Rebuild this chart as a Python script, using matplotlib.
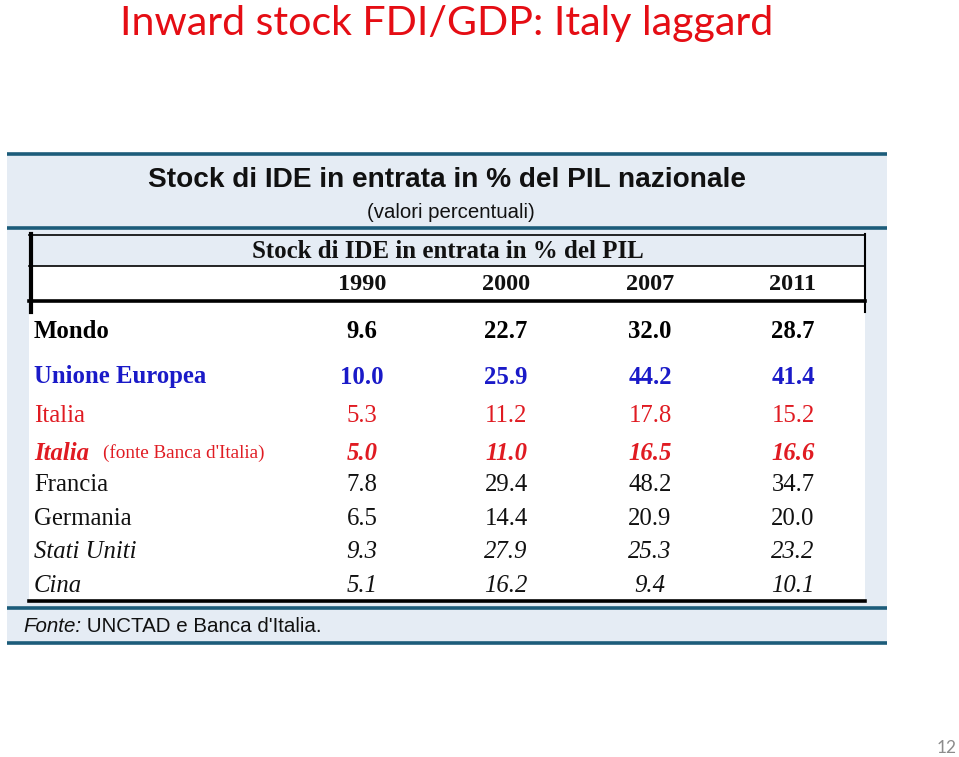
import matplotlib
matplotlib.use('Agg')
import matplotlib.pyplot as plt
from matplotlib.patches import Rectangle

# Table data
title = 'Inward stock FDI/GDP: Italy laggard'
table_title = 'Stock di IDE in entrata in % del PIL nazionale'
table_subtitle = '(valori percentuali)'
header = 'Stock di IDE in entrata in % del PIL'
years = ['1990', '2000', '2007', '2011']
countries = ['Mondo', 'Unione Europea', 'Italia', 'Italia', 'Francia', 'Germania', 'Stati Uniti', 'Cina']
mondo = [9.6, 22.7, 32.0, 28.7]
unione_europea = [10.0, 25.9, 44.2, 41.4]
italia = [5.3, 11.2, 17.8, 15.2]
italia_bdi = [5.0, 11.0, 16.5, 16.6]
francia = [7.8, 29.4, 48.2, 34.7]
germania = [6.5, 14.4, 20.9, 20.0]
stati_uniti = [9.3, 27.9, 25.3, 23.2]
cina = [5.1, 16.2, 9.4, 10.1]
source = "UNCTAD e Banca d'Italia."
page = '12'

values = [mondo, unione_europea, italia, italia_bdi, francia, germania, stati_uniti, cina]

# Layout (pixel coordinates, y downwards)
W, H = 959, 757
col_x = [362, 506, 650, 793]
row_y = [331, 377, 416, 453, 485, 519, 552, 586]
label_x = 34

# Styles per row: (colour, weight, style)
RED = '#e01b22'
BLUE = '#1a1ac8'
row_style = [
    ('black', 'bold', 'normal'),
    (BLUE, 'bold', 'normal'),
    (RED, 'normal', 'normal'),
    (RED, 'bold', 'italic'),
    ('#111111', 'normal', 'normal'),
    ('#111111', 'normal', 'normal'),
    ('#111111', 'normal', 'italic'),
    ('#111111', 'normal', 'italic'),
]

PANEL = '#e5ecf4'
TEAL = '#1c5c7a'
SERIF = 'Liberation Serif'
SANS = 'Liberation Sans'
FS = 17.8

fig = plt.figure(figsize=(W / 100, H / 100), dpi=100)
ax = fig.add_axes([0, 0, 1, 1])
ax.set_xlim(0, W)
ax.set_ylim(H, 0)
ax.axis('off')

# Slide title
ax.text(120, 24, title, color='#e50d14', fontsize=29.6, family='Lato', va='center', ha='left')

# Light blue panel with teal rules
ax.add_patch(Rectangle((7, 154), 880, 490, facecolor=PANEL, edgecolor='none'))
for y in [154, 228, 608, 643]:
    ax.plot([7, 887], [y, y], color=TEAL, lw=2.6, solid_capstyle='butt')

ax.text(447, 180, table_title, family=SANS, weight='bold', fontsize=20.2, ha='center', va='center', color='#111111')
ax.text(451, 212, table_subtitle, family=SANS, fontsize=14.7, ha='center', va='center', color='#111111')

# White table body
ax.add_patch(Rectangle((29, 266), 836, 335, facecolor='white', edgecolor='none'))

# Header box lines
ax.plot([29, 865], [234.5, 234.5], color='black', lw=1.2)
ax.plot([29, 865], [266, 266], color='black', lw=1.2)
ax.plot([29, 865], [300.5, 300.5], color='black', lw=2.6)
ax.plot([30.5, 30.5], [234, 312], color='black', lw=3)
ax.plot([864.5, 864.5], [234, 312], color='black', lw=1.5)
ax.plot([29, 865], [600.5, 600.5], color='black', lw=2.6)

ax.text(448, 251, header, family=SERIF, weight='bold', fontsize=17.9, ha='center', va='center', color='#111111')
for x, yr in zip(col_x, years):
    ax.text(x, 284, yr, family=SERIF, weight='bold', fontsize=17.5, ha='center', va='center', color='#111111')

# Rows
for i, (name, vals) in enumerate(zip(countries, values)):
    color, weight, style = row_style[i]
    y = row_y[i]
    t = ax.text(label_x, y, name, family=SERIF, weight=weight, style=style, fontsize=FS,
                color=color, ha='left', va='center')
    if i == 3:
        ax.annotate("(fonte Banca d'Italia)", xy=(1, 0.5), xycoords=t, xytext=(10, 0),
                    textcoords='offset points', va='center', ha='left',
                    family=SERIF, fontsize=13.8, color=color)
    for x, v in zip(col_x, vals):
        ax.text(x, y, f'{v:.1f}', family=SERIF, weight=weight, style=style, fontsize=FS,
                color=color, ha='center', va='center')

# Source note
f = ax.text(23, 627, 'Fonte:', family=SANS, style='italic', fontsize=14.8, ha='left', va='center', color='#111111')
ax.annotate(' ' + source, xy=(1, 0.5), xycoords=f, family=SANS, fontsize=14.8, ha='left', va='center', color='#111111')

# Page number
ax.text(957, 748, page, family='Lato', fontsize=12.5, color='#8c8c8c', ha='right', va='center')

fig.savefig('out.png', dpi=100)
